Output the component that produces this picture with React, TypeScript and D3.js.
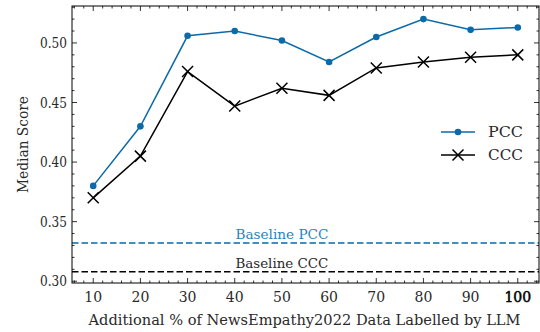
import React from 'react';
import * as d3 from 'd3';

// data
const percents = [10, 20, 30, 40, 50, 60, 70, 80, 90, 100];
const pccValues = [0.380, 0.430, 0.506, 0.510, 0.502, 0.484, 0.505, 0.520, 0.511, 0.513];
const cccValues = [0.370, 0.405, 0.476, 0.447, 0.462, 0.456, 0.479, 0.484, 0.488, 0.490];
const baselinePCC = 0.332;
const baselineCCC = 0.308;
const xTicks = [10, 20, 30, 40, 50, 60, 70, 80, 90, 100];
const yTicks = [0.30, 0.35, 0.40, 0.45, 0.50];

const W = 540;
const H = 332;
const margin = { top: 6, right: 1, bottom: 49, left: 72 };
const BLUE = '#0c6aa8';
const TEXT = '#2a2a2a';
const FONT = "'DejaVu Serif', serif";

const App = () => {
  const x = d3.scaleLinear().domain([5.5, 104.5]).range([margin.left, W - margin.right]);
  const y = d3.scaleLinear().domain([0.2985, 0.531]).range([H - margin.bottom, margin.top]);
  const [x0, x1] = x.range();
  const [y0, y1] = y.range();

  const xMinor = d3.range(6, 105, 2).filter(v => v % 10 !== 0);
  const yMinor = d3.range(30, 54, 1).map(v => v / 100).filter(v => Math.round(v * 100) % 5 !== 0);

  const line = d3.line<number>()
    .x((_, i) => x(percents[i]))
    .y(d => y(d));

  const cross = (cx: number, cy: number, s: number) =>
    `M${cx - s},${cy - s}L${cx + s},${cy + s}M${cx - s},${cy + s}L${cx + s},${cy - s}`;

  const legendY1 = 132;
  const legendY2 = 155;

  return (
    <svg width={W} height={H} style={{ position: 'absolute', left: 0, top: 0, fontFamily: FONT }}>
      <rect width={W} height={H} fill="#fff" />

      {/* baselines */}
      <line x1={x0} x2={x1} y1={y(baselinePCC)} y2={y(baselinePCC)} stroke={BLUE} strokeWidth={1.5} strokeDasharray="6.5,3" />
      <line x1={x0} x2={x1} y1={y(baselineCCC)} y2={y(baselineCCC)} stroke="#000" strokeWidth={1.5} strokeDasharray="6.5,3" />
      <text x={x(50)} y={y(baselinePCC) - 4} textAnchor="middle" fontSize={13} fill="#2a84bd"
        textLength={93} lengthAdjust="spacingAndGlyphs">Baseline PCC</text>
      <text x={x(50)} y={y(baselineCCC) - 4} textAnchor="middle" fontSize={13} fill={TEXT}
        textLength={93} lengthAdjust="spacingAndGlyphs">Baseline CCC</text>

      {/* series */}
      <path d={line(pccValues) ?? ''} fill="none" stroke={BLUE} strokeWidth={1.5} />
      {pccValues.map((v, i) => (
        <circle key={'p' + i} cx={x(percents[i])} cy={y(v)} r={3.3} fill={BLUE} />
      ))}
      <path d={line(cccValues) ?? ''} fill="none" stroke="#000" strokeWidth={1.5} />
      {cccValues.map((v, i) => (
        <path key={'c' + i} d={cross(x(percents[i]), y(v), 5.5)} stroke="#000" strokeWidth={1.5} fill="none" />
      ))}

      {/* legend */}
      <line x1={441} x2={475} y1={legendY1} y2={legendY1} stroke={BLUE} strokeWidth={1.5} />
      <circle cx={458} cy={legendY1} r={3.3} fill={BLUE} />
      <text x={488} y={legendY1 + 5} fontSize={14} fill={TEXT} textLength={35} lengthAdjust="spacingAndGlyphs">PCC</text>
      <line x1={441} x2={475} y1={legendY2} y2={legendY2} stroke="#000" strokeWidth={1.5} />
      <path d={cross(458, legendY2, 5.5)} stroke="#000" strokeWidth={1.5} fill="none" />
      <text x={488} y={legendY2 + 5} fontSize={14} fill={TEXT} textLength={35} lengthAdjust="spacingAndGlyphs">CCC</text>

      {/* ticks, inward on all four sides */}
      <g stroke="#000" strokeWidth={0.8}>
        {xTicks.map(t => (
          <g key={'xt' + t}>
            <line x1={x(t)} x2={x(t)} y1={y0} y2={y0 - 5} />
            <line x1={x(t)} x2={x(t)} y1={y1} y2={y1 + 5} />
          </g>
        ))}
        {xMinor.map(t => (
          <g key={'xm' + t}>
            <line x1={x(t)} x2={x(t)} y1={y0} y2={y0 - 2.5} />
            <line x1={x(t)} x2={x(t)} y1={y1} y2={y1 + 2.5} />
          </g>
        ))}
        {yTicks.map(t => (
          <g key={'yt' + t}>
            <line x1={x0} x2={x0 + 5} y1={y(t)} y2={y(t)} />
            <line x1={x1} x2={x1 - 5} y1={y(t)} y2={y(t)} />
          </g>
        ))}
        {yMinor.map(t => (
          <g key={'ym' + t}>
            <line x1={x0} x2={x0 + 2.5} y1={y(t)} y2={y(t)} />
            <line x1={x1} x2={x1 - 2.5} y1={y(t)} y2={y(t)} />
          </g>
        ))}
      </g>
      <rect x={x0} y={y1} width={x1 - x0} height={y0 - y1} fill="none" stroke="#000" strokeWidth={1} />

      {/* tick labels; the last one is a little heavier in the reference */}
      {xTicks.map(t => (
        <text key={'xl' + t} x={x(t)} y={y0 + 19} textAnchor="middle" fontSize={14}
          fill={t === 100 ? '#000' : TEXT} stroke={t === 100 ? '#000' : 'none'} strokeWidth={0.5}>{t}</text>
      ))}
      {yTicks.map(t => (
        <text key={'yl' + t} x={x0 - 5} y={y(t) + 5} textAnchor="end" fontSize={14} fill={TEXT}
          textLength={27} lengthAdjust="spacingAndGlyphs">{d3.format('.2f')(t)}</text>
      ))}

      {/* axis titles */}
      <text x={(x0 + x1) / 2 - 1} y={H - 7} textAnchor="middle" fontSize={14} fill={TEXT}
        textLength={432} lengthAdjust="spacingAndGlyphs">Additional % of NewsEmpathy2022 Data Labelled by LLM</text>
      <text transform={`translate(28, ${(y0 + y1) / 2}) rotate(-90)`} textAnchor="middle" fontSize={14} fill={TEXT}
        textLength={97} lengthAdjust="spacingAndGlyphs">Median Score</text>
    </svg>
  );
};

export default App;
